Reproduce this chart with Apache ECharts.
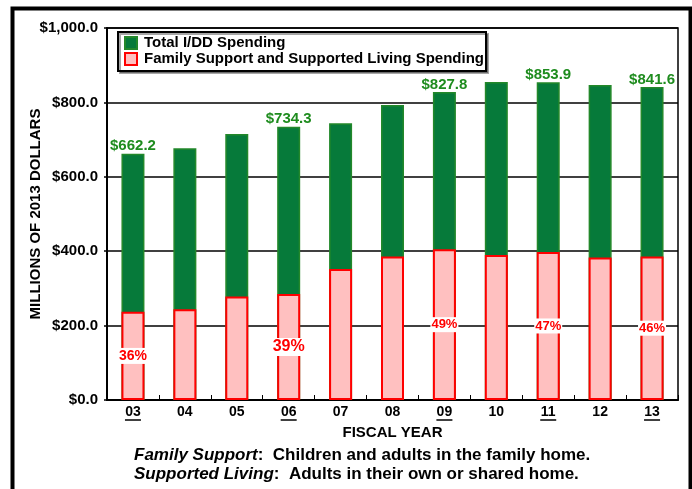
<!DOCTYPE html>
<html><head><meta charset="utf-8">
<script src="https://cdn.jsdelivr.net/npm/echarts@6/dist/echarts.min.js"></script>
<style>html,body{margin:0;padding:0;background:#fff}#c{width:692px;height:489px}</style>
</head><body><div id="c"></div>
<script>
const categories = ['03','04','05','06','07','08','09','10','11','12','13'];
const totalSpending = [662.2, 677, 715, 734.3, 744, 793, 827.8, 855, 853.9, 847, 841.6];
const familySupport = [237, 244, 278, 285, 352, 386, 405, 390, 398, 383, 386];
const totalLabels = ['$662.2','','','$734.3','','','$827.8','','$853.9','','$841.6'];
const pctLabels = ['36%','','','39%','','','49%','','47%','','46%'];
const underlined = ['03','06','09','11','13'];
const yTicks = [0, 200, 400, 600, 800, 1000];

const chart = echarts.init(document.getElementById('c'));
const F = 'Arial, "Liberation Sans", sans-serif';

function fmtMoney(v){
  return '$' + v.toLocaleString('en-US', {minimumFractionDigits:1, maximumFractionDigits:1});
}

chart.setOption({
  backgroundColor: '#fff',
  animation: false,
  textStyle: {fontFamily: F},
  grid: {left: 107, right: 14, top: 28, bottom: 89, show: true, borderColor: '#000', borderWidth: 1.5, backgroundColor: 'transparent'},
  legend: {
    orient: 'vertical', left: 118, top: 32,
    backgroundColor: '#fff', borderColor: '#000', borderWidth: 2,
    shadowColor: 'rgba(0,0,0,0.35)', shadowOffsetX: 2, shadowOffsetY: 2, shadowBlur: 0,
    padding: [3, 2, 4, 6], itemGap: 0, itemWidth: 12, itemHeight: 12, icon: 'rect',
    textStyle: {fontFamily: F, fontSize: 15, fontWeight: 'bold', color: '#000', lineHeight: 16, padding: [0,0,0,2]},
    data: ['Total I/DD Spending', 'Family Support and Supported Living Spending']
  },
  xAxis: {
    type: 'category', data: categories,
    name: 'FISCAL YEAR', nameLocation: 'middle', nameGap: 25, nameMoveOverlap: false,
    nameTextStyle: {fontFamily: F, fontSize: 15, fontWeight: 'bold', color: '#000'},
    axisLine: {lineStyle: {color: '#000', width: 2}},
    axisTick: {show: true, inside: true, length: 5, lineStyle: {color: '#000', width: 1}},
    axisLabel: {
      margin: 5, color: '#000',
      formatter: function(v){ return underlined.indexOf(v) >= 0 ? '{a|' + v + '}\n{u| }' : '{a|' + v + '}\n{n| }'; },
      rich: {
        a: {fontFamily: F, fontSize: 14, fontWeight: 'bold', color: '#000', lineHeight: 14},
        u: {backgroundColor: '#000', width: 16, height: 1.5, lineHeight: 2, fontSize: 1},
        n: {width: 16, height: 1.5, lineHeight: 2, fontSize: 1}
      }
    }
  },
  yAxis: {
    type: 'value', min: yTicks[0], max: yTicks[yTicks.length-1], interval: 200,
    name: 'MILLIONS OF 2013 DOLLARS', nameLocation: 'middle', nameGap: 64, nameRotate: 90, nameMoveOverlap: false,
    nameTextStyle: {fontFamily: F, fontSize: 15, fontWeight: 'bold', color: '#000'},
    axisLine: {show: true, lineStyle: {color: '#000', width: 2}},
    axisTick: {show: true, length: 3, lineStyle: {color: '#000', width: 1.5}},
    splitLine: {show: true, lineStyle: {color: '#000', width: 1.5}},
    axisLabel: {margin: 9, color: '#000', fontFamily: F, fontSize: 15, fontWeight: 'bold', formatter: fmtMoney}
  },
  series: [
    {
      name: 'Total I/DD Spending', type: 'bar', barWidth: 23, barGap: '-100%',
      itemStyle: {color: '#067A3A', borderColor: '#23882A', borderWidth: 1.5},
      label: {
        show: true, position: 'top', distance: 0,
        fontFamily: F, fontSize: 15, fontWeight: 'bold', color: '#1E8C1E',
        formatter: function(p){ return totalLabels[p.dataIndex]; }
      },
      data: totalSpending
    },
    {
      name: 'Family Support and Supported Living Spending', type: 'bar', barWidth: 23, barGap: '-100%',
      itemStyle: {color: '#FFC0C0', borderColor: '#FF0000', borderWidth: 2},
      label: {
        show: true, position: 'inside',
        fontFamily: F, fontSize: 13, fontWeight: 'bold', color: '#FF0000',
        backgroundColor: '#fff', padding: [1, 1],
        formatter: function(p){ return pctLabels[p.dataIndex]; }
      },
      data: familySupport.map(function(v, i){
        const item = {value: v};
        if (!pctLabels[i]) item.label = {show: false};
        else if (categories[i] === '06') item.label = {fontSize: 16};
        else if (categories[i] === '03') item.label = {fontSize: 14};
        else item.label = {fontSize: 13};
        return item;
      })
    }
  ],
  graphic: [
    {type: 'rect', left: 10, top: 6, z: 100, silent: true,
     shape: {width: 678, height: 500}, style: {fill: 'none', stroke: '#000', lineWidth: 4}},
    {type: 'text', left: 134, top: 447, z: 100,
     style: {
       text: '{i|Family Support}{b|:  Children and adults in the family home.}\n{i|Supported Living}{b|:  Adults in their own or shared home.}',
       rich: {
         i: {fontFamily: F, fontSize: 17, fontWeight: 'bold', fontStyle: 'italic', fill: '#000', lineHeight: 19},
         b: {fontFamily: F, fontSize: 17, fontWeight: 'bold', fill: '#000', lineHeight: 19}
       }
     }}
  ]
});
</script>
</body></html>
